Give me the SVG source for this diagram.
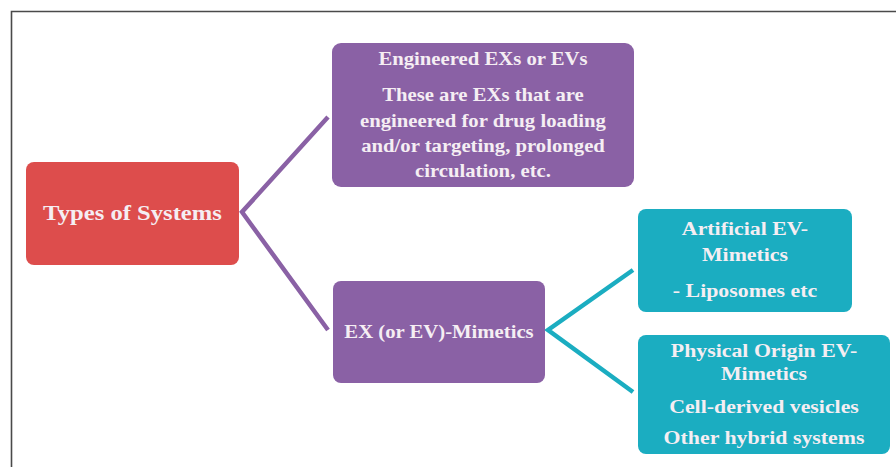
<svg xmlns="http://www.w3.org/2000/svg" width="896" height="467" viewBox="0 0 896 467">
<style>
.t{font-family:"Liberation Serif","Times New Roman",serif;font-weight:bold;fill:#F5EEF3;text-anchor:middle}
.red{fill:#DD4D4C}
.pur{fill:#8A61A5}
.teal{fill:#1BADC1}
.cp{fill:none;stroke:#8A61A5;stroke-width:4.5;stroke-linejoin:miter}
.ct{fill:none;stroke:#1BADC1;stroke-width:4.5;stroke-linejoin:miter}
</style>
<rect width="896" height="467" fill="#FFFFFF"/>
<path d="M11.5,467 V11.5 H896" fill="none" stroke="#4A4A4A" stroke-width="1.6"/>
<g id="connectors">
<polyline class="cp" points="328,117 242,212 328,330"/>
<polyline class="ct" points="633,270 548,330 633,392"/>
</g>
<g id="types">
<rect class="red" x="26" y="162" width="213" height="103" rx="8"/>
<g transform="translate(132.5,0) scale(1.12,1)"><text class="t" font-size="22" x="0" y="220">Types of Systems</text></g>
</g>
<g id="engineered">
<rect class="pur" x="332" y="43" width="302" height="144" rx="9"/>
<g transform="translate(483,0) scale(1.12,1)" font-size="18.5">
<text class="t" x="0" y="65">Engineered EXs or EVs</text>
<text class="t" x="0" y="101">These are EXs that are</text>
<text class="t" x="0" y="127">engineered for drug loading</text>
<text class="t" x="0" y="152">and/or targeting, prolonged</text>
<text class="t" x="0" y="177">circulation, etc.</text>
</g>
</g>
<g id="mimetics">
<rect class="pur" x="333" y="281" width="212" height="102" rx="8"/>
<g transform="translate(439,0) scale(1.12,1)"><text class="t" font-size="18.5" x="0" y="338">EX (or EV)-Mimetics</text></g>
</g>
<g id="artificial">
<rect class="teal" x="638" y="209" width="214" height="103" rx="8"/>
<g transform="translate(745,0) scale(1.12,1)" font-size="19.5">
<text class="t" x="0" y="235">Artificial EV-</text>
<text class="t" x="0" y="261">Mimetics</text>
<text class="t" x="0" y="297">- Liposomes etc</text>
</g>
</g>
<g id="physical">
<rect class="teal" x="638" y="335" width="252" height="119" rx="8"/>
<g transform="translate(764,0) scale(1.12,1)" font-size="19.5">
<text class="t" x="0" y="357">Physical Origin EV-</text>
<text class="t" x="0" y="380">Mimetics</text>
<text class="t" x="0" y="413">Cell-derived vesicles</text>
<text class="t" x="0" y="444">Other hybrid systems</text>
</g>
</g>
</svg>
